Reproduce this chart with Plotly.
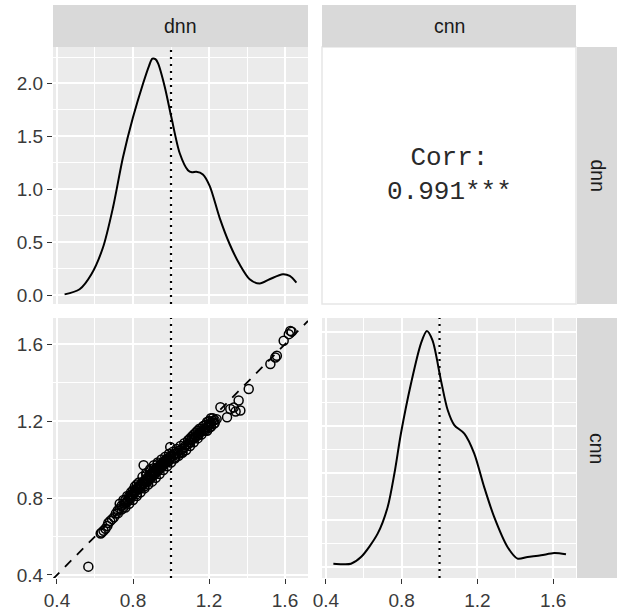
import plotly.graph_objects as go

# ---------------- data ----------------
variables = ["dnn", "cnn"]
corr_label = "Corr:<br>0.991***"
ref_value = 1.0

dnn_density_x = [0.44, 0.519, 0.581, 0.642, 0.695, 0.747, 0.80, 0.853, 0.885, 0.902, 0.918, 0.932,
                 0.967, 1.002, 1.046, 1.089, 1.11, 1.133, 1.168, 1.204, 1.256, 1.309, 1.361,
                 1.414, 1.467, 1.519, 1.589, 1.625, 1.66]
dnn_density_y = [0.006, 0.054, 0.196, 0.449, 0.829, 1.30, 1.68, 2.00, 2.17, 2.235, 2.23, 2.19,
                 1.97, 1.68, 1.34, 1.18, 1.16, 1.165, 1.14, 1.03, 0.73, 0.48, 0.29,
                 0.149, 0.108, 0.149, 0.196, 0.18, 0.117]

cnn_density_x = [0.439, 0.485, 0.532, 0.585, 0.673, 0.726, 0.762, 0.796, 0.849, 0.902, 0.933,
                 0.963, 1.007, 1.043, 1.078, 1.131, 1.183, 1.236, 1.289, 1.36, 1.412, 1.465,
                 1.536, 1.606, 1.668]
cnn_density_y = [0.035, 0.03, 0.035, 0.106, 0.355, 0.638, 1.00, 1.42, 1.95, 2.38, 2.51,
                 2.41, 1.99, 1.67, 1.51, 1.42, 1.21, 0.85, 0.53, 0.21, 0.089, 0.106,
                 0.124, 0.149, 0.135]

dnn_values = [0.565, 0.63, 0.635, 0.645, 0.655, 0.665, 0.67, 0.68, 0.69, 0.70, 0.71, 0.72, 0.73,
              0.74, 0.75, 0.755, 0.76, 0.77, 0.775, 0.78, 0.785, 0.79, 0.795, 0.80, 0.805, 0.81,
              0.815, 0.82, 0.825, 0.83, 0.835, 0.84, 0.845, 0.85, 0.855, 0.856, 0.86, 0.865, 0.87,
              0.875, 0.88, 0.885, 0.89, 0.895, 0.90, 0.905, 0.91, 0.915, 0.92, 0.925, 0.93, 0.935,
              0.94, 0.945, 0.95, 0.955, 0.96, 0.965, 0.97, 0.975, 0.98, 0.99, 0.996, 1.00, 1.01,
              1.02, 1.03, 1.04, 1.05, 1.06, 1.07, 1.08, 1.09, 1.10, 1.105, 1.11, 1.12, 1.125, 1.13,
              1.14, 1.145, 1.15, 1.16, 1.17, 1.18, 1.19, 1.20, 1.21, 1.22, 1.23, 1.24, 1.26, 1.225,
              1.295, 1.312, 1.33, 1.34, 1.356, 1.365, 1.409, 1.523, 1.549, 1.557, 1.593, 1.62,
              1.628, 1.635,
              0.82, 0.84, 0.86, 0.87, 0.88, 0.89, 0.90, 0.91, 0.92, 0.93, 0.94, 0.95, 0.96, 0.97,
              0.98, 0.99, 0.87, 0.89, 0.91, 0.93, 1.02, 1.04, 1.06, 1.10, 1.12, 1.14, 1.16, 1.18,
              1.20, 1.22, 1.19, 1.21, 1.23, 0.76, 0.78, 0.80, 0.82, 0.74, 0.72,
              0.73, 0.75, 0.77, 0.79, 0.81, 0.83, 0.85, 0.87, 0.89, 0.91, 0.93, 0.95, 0.97, 0.99,
              1.01, 1.03, 1.05, 1.07, 1.09, 1.11, 1.13, 1.15, 1.17, 1.19, 1.21,
              0.76, 0.78, 0.80, 0.82, 0.84, 0.86, 0.88, 0.90, 0.92, 0.94, 0.96, 0.98, 1.00, 1.02,
              1.04, 1.06, 1.08, 1.10, 1.12, 1.14, 1.16, 1.18, 1.20]
cnn_values = [0.443, 0.615, 0.62, 0.63, 0.64, 0.655, 0.67, 0.68, 0.69, 0.70, 0.72, 0.735, 0.745,
              0.76, 0.75, 0.77, 0.775, 0.78, 0.79, 0.80, 0.795, 0.81, 0.82, 0.815, 0.83, 0.84,
              0.835, 0.85, 0.845, 0.86, 0.855, 0.87, 0.865, 0.88, 0.875, 0.97, 0.89, 0.885, 0.90,
              0.895, 0.91, 0.905, 0.92, 0.915, 0.93, 0.925, 0.94, 0.935, 0.95, 0.945, 0.96, 0.955,
              0.965, 0.97, 0.975, 0.98, 0.985, 0.99, 0.995, 1.00, 1.005, 1.01, 1.065, 1.015, 1.02,
              1.03, 1.035, 1.045, 1.05, 1.055, 1.065, 1.075, 1.08, 1.09, 1.10, 1.105, 1.11, 1.115, 1.12,
              1.125, 1.13, 1.14, 1.145, 1.15, 1.16, 1.17, 1.18, 1.19, 1.20, 1.205, 1.21, 1.272, 1.186,
              1.22, 1.263, 1.27, 1.25, 1.307, 1.255, 1.367, 1.497, 1.531, 1.54, 1.618, 1.652,
              1.669, 1.665,
              0.82, 0.85, 0.86, 0.88, 0.89, 0.90, 0.91, 0.92, 0.93, 0.94, 0.95, 0.96, 0.97, 0.98,
              0.99, 0.995, 0.92, 0.94, 0.955, 0.975, 1.01, 1.03, 1.04, 1.11, 1.13, 1.15, 1.16, 1.18,
              1.20, 1.215, 1.15, 1.17, 1.19, 0.79, 0.81, 0.84, 0.87, 0.74, 0.72,
              0.77, 0.79, 0.81, 0.83, 0.86, 0.88, 0.91, 0.93, 0.95, 0.97, 0.985, 1.00, 1.015, 1.03,
              1.04, 1.055, 1.07, 1.085, 1.10, 1.12, 1.14, 1.16, 1.175, 1.195, 1.215,
              0.75, 0.77, 0.79, 0.81, 0.83, 0.85, 0.87, 0.885, 0.905, 0.925, 0.945, 0.965, 0.985,
              1.005, 1.02, 1.035, 1.05, 1.07, 1.09, 1.11, 1.13, 1.15, 1.165]

x_ticks = [0.4, 0.8, 1.2, 1.6]
dens_ticks = [0.0, 0.5, 1.0, 1.5, 2.0]

# ---------------- layout geometry ----------------
W, H = 617, 611
x_range = [0.379, 1.721]
y_range_scatter = [0.384, 1.736]
y_range_dnn = [-0.085, 2.345]
y_range_cnn = [-0.117, 2.649]

def px_x(a, b):
    return [a / W, b / W]

def px_y(top, bottom):
    return [1 - bottom / H, 1 - top / H]

col1 = px_x(53, 308)
col2 = px_x(322, 576)
row1 = px_y(47, 304)
row2 = px_y(318, 578)

panel_bg = "#EBEBEB"
strip_bg = "#D9D9D9"
tick_font = dict(family="Liberation Sans, Arial, sans-serif", size=19, color="#3A3A3A")

fig = go.Figure()

# top-left density of dnn
fig.add_trace(go.Scatter(x=dnn_density_x, y=dnn_density_y, mode="lines",
                         line=dict(color="black", width=2, shape="spline", smoothing=0.8),
                         xaxis="x", yaxis="y", hoverinfo="skip"))
fig.add_trace(go.Scatter(x=[ref_value, ref_value], y=y_range_dnn, mode="lines",
                         line=dict(color="black", width=2.2, dash="2px,5px"),
                         xaxis="x", yaxis="y", hoverinfo="skip"))

# bottom-left scatter
fig.add_trace(go.Scatter(x=x_range, y=x_range, mode="lines",
                         line=dict(color="black", width=1.8, dash="9px,8px"),
                         xaxis="x3", yaxis="y3", hoverinfo="skip"))
fig.add_trace(go.Scatter(x=[ref_value, ref_value], y=y_range_scatter, mode="lines",
                         line=dict(color="black", width=2.2, dash="2px,5px"),
                         xaxis="x3", yaxis="y3", hoverinfo="skip"))
fig.add_trace(go.Scatter(x=dnn_values, y=cnn_values, mode="markers",
                         marker=dict(symbol="circle-open", size=9, color="black",
                                     line=dict(width=1.5, color="black")),
                         xaxis="x3", yaxis="y3", hoverinfo="skip"))

# bottom-right density of cnn
fig.add_trace(go.Scatter(x=cnn_density_x, y=cnn_density_y, mode="lines",
                         line=dict(color="black", width=2, shape="spline", smoothing=0.8),
                         xaxis="x4", yaxis="y4", hoverinfo="skip"))
fig.add_trace(go.Scatter(x=[ref_value, ref_value], y=y_range_cnn, mode="lines",
                         line=dict(color="black", width=2.2, dash="2px,5px"),
                         xaxis="x4", yaxis="y4", hoverinfo="skip"))

grid_major = dict(showgrid=True, gridcolor="white", gridwidth=1.6, zeroline=False,
                  showline=False, automargin=False, fixedrange=True)

def xaxis(domain, anchor, labels):
    d = dict(grid_major, domain=domain, anchor=anchor, range=x_range,
             tickvals=x_ticks, ticktext=[f"{v:.1f}" for v in x_ticks],
             minor=dict(tickvals=[0.6, 1.0, 1.4], showgrid=True, gridcolor="white",
                        gridwidth=0.8, ticks=""))
    if labels:
        d.update(ticks="outside", ticklen=5, tickwidth=1.4, tickcolor="#333333",
                 showticklabels=True, tickfont=tick_font)
    else:
        d.update(ticks="", showticklabels=False)
    return d

layout = dict(
    width=W, height=H, margin=dict(l=0, r=0, t=0, b=0),
    paper_bgcolor="white", plot_bgcolor=panel_bg, showlegend=False,
    xaxis=xaxis(col1, "y", False),
    xaxis3=xaxis(col1, "y3", True),
    xaxis4=xaxis(col2, "y4", True),
    yaxis=dict(grid_major, domain=row1, anchor="x", range=y_range_dnn,
               tickvals=dens_ticks, ticktext=[f"{v:.1f}" for v in dens_ticks],
               ticks="outside", ticklen=5, tickwidth=1.4, tickcolor="#333333",
               tickfont=tick_font,
               minor=dict(tickvals=[0.25, 0.75, 1.25, 1.75, 2.25], showgrid=True,
                          gridcolor="white", gridwidth=0.8, ticks="")),
    yaxis3=dict(grid_major, domain=row2, anchor="x3", range=y_range_scatter,
                tickvals=x_ticks, ticktext=[f"{v:.1f}" for v in x_ticks],
                ticks="outside", ticklen=5, tickwidth=1.4, tickcolor="#333333",
                tickfont=tick_font,
                minor=dict(tickvals=[0.6, 1.0, 1.4], showgrid=True, gridcolor="white",
                           gridwidth=0.8, ticks="")),
    yaxis4=dict(grid_major, domain=row2, anchor="x4", range=y_range_cnn,
                tickvals=[0, 0.5, 1.0, 1.5, 2.0, 2.5], showticklabels=False, ticks="",
                minor=dict(tickvals=[0.25, 0.75, 1.25, 1.75, 2.25], showgrid=True,
                           gridcolor="white", gridwidth=0.8, ticks="")),
)
fig.update_layout(**layout)

shapes = []
annotations = []
# correlation panel: white with light border (paper coordinates)
shapes.append(dict(type="rect", xref="paper", yref="paper", x0=col2[0], x1=col2[1],
                   y0=row1[0], y1=row1[1],
                   fillcolor="white", line=dict(color="#E6E6E6", width=1.5), layer="above"))
annotations.append(dict(text=corr_label, xref="paper", yref="paper",
                        x=(col2[0] + col2[1]) / 2, y=(row1[0] + row1[1]) / 2,
                        showarrow=False, align="center", xanchor="center", yanchor="middle",
                        font=dict(family="Liberation Mono, Courier New, monospace", size=26,
                                  color="#2A2A2A")))

strip_font = dict(family="Liberation Sans, Arial, sans-serif", size=19.5, color="#1A1A1A")
# top strips
for dom, name in zip([col1, col2], variables):
    shapes.append(dict(type="rect", xref="paper", yref="paper", x0=dom[0], x1=dom[1],
                       y0=1 - 47 / H, y1=1 - 5 / H, fillcolor=strip_bg, line=dict(width=0),
                       layer="above"))
    annotations.append(dict(text=name, xref="paper", yref="paper", x=(dom[0] + dom[1]) / 2,
                            y=1 - 26 / H, showarrow=False, font=strip_font,
                            xanchor="center", yanchor="middle"))
# right strips
for dom, name in zip([row1, row2], variables):
    shapes.append(dict(type="rect", xref="paper", yref="paper", x0=577 / W, x1=617 / W,
                       y0=dom[0], y1=dom[1], fillcolor=strip_bg, line=dict(width=0),
                       layer="above"))
    annotations.append(dict(text=name, xref="paper", yref="paper", x=597 / W,
                            y=(dom[0] + dom[1]) / 2, showarrow=False, font=strip_font,
                            textangle=90, xanchor="center", yanchor="middle"))

fig.update_layout(shapes=shapes, annotations=annotations)
fig.write_html("out.html", config={"displayModeBar": False},
               post_script="document.body.style.margin='0px';")
